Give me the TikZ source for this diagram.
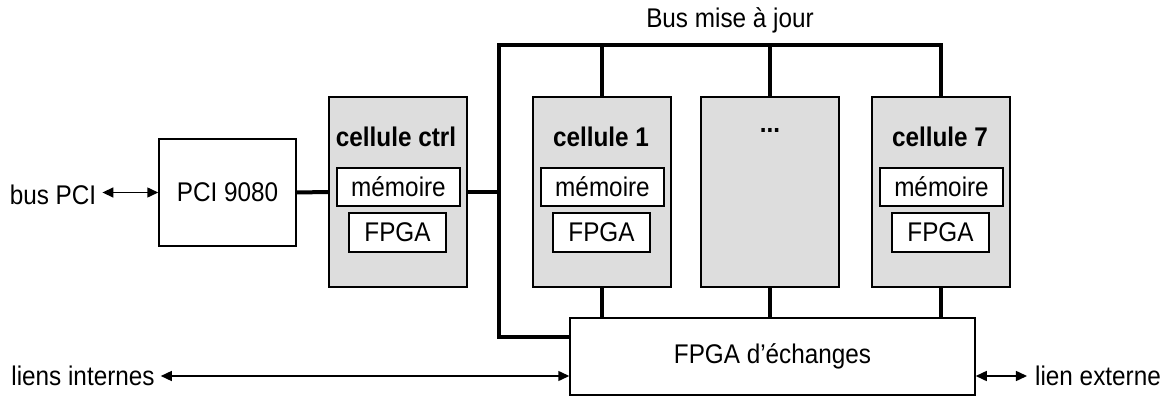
\documentclass[tikz,border=0pt]{standalone}
\usepackage{fontspec}
\setmainfont{Liberation Sans}[FakeStretch=0.9]
\usetikzlibrary{arrows.meta}
\definecolor{cellgray}{HTML}{DDDDDD}
\tikzset{
  box/.style={draw=black, line width=1.5pt, fill=white, inner sep=0pt, font=\fontsize{27}{31}\selectfont},
  cellbox/.style={draw=black, line width=1.5pt, fill=cellgray, minimum width=138pt, minimum height=190pt, inner sep=0pt},
  celltitle/.style={font=\bfseries\fontsize{27}{31}\selectfont, inner sep=0pt},
  membox/.style={box, minimum width=123pt, minimum height=38pt},
  fpgabox/.style={box, minimum width=97pt, minimum height=39pt},
  lbl/.style={font=\fontsize{27}{31}\selectfont, inner sep=0pt},
  bus/.style={line width=4pt},
  link/.style={line width=1.5pt, {Triangle[length=11pt,width=10pt]}-{Triangle[length=11pt,width=10pt]}}
}
\begin{document}
\begin{tikzpicture}[x=1pt,y=-1pt]
\useasboundingbox (0,0) rectangle (1172,403);

% PCI
\node[box, minimum width=137pt, minimum height=107pt] (pci) at (227.5,192.5) {PCI 9080};
\node[lbl] (buspci) at (53,195) {bus PCI};

% cells
\node[cellbox] (ctrl) at (398,192) {};
\node[cellbox] (c1) at (602,192) {};
\node[cellbox] (cd) at (770,192) {};
\node[cellbox] (c7) at (941,192) {};

\node[celltitle] (tctrl) at (396,137) {cellule ctrl};
\node[celltitle] (t1) at (601,137) {cellule 1};
\node[celltitle] (td) at (770,130) {...};
\node[celltitle] (t7) at (940,137) {cellule 7};

\node[membox] (mctrl) at (398.5,187) {mémoire};
\node[membox] (m1) at (602.5,187) {mémoire};
\node[membox] (m7) at (941.5,187) {mémoire};
\node[fpgabox] (fctrl) at (397.5,232.5) {FPGA};
\node[fpgabox] (f1) at (601.5,232.5) {FPGA};
\node[fpgabox] (f7) at (940.5,232.5) {FPGA};

% FPGA d'échanges
\node[box, minimum width=405pt, minimum height=77pt] (fx) at (772.5,356.5) {FPGA d’échanges};

% labels
\node[lbl] (busmaj) at (730,20) {Bus mise à jour};
\node[lbl] (li) at (83,376) {liens internes};
\node[lbl] (le) at (1098,376) {lien externe};

% bus coordinates
\coordinate (busTL) at (499,45);
\coordinate (busBL) at (499,337);

% buses
\draw[bus] (pci.east) -- (ctrl.west);
\draw[bus] (ctrl.east) -- (ctrl.east -| busTL);
\draw[bus, line join=miter] (fx.west |- busBL) -| (busTL) -| (c7.north);
\draw[bus] (c1.north |- busTL) -- (c1.north);
\draw[bus] (cd.north |- busTL) -- (cd.north);
\draw[bus] (c1.south) -- (c1.south |- fx.north);
\draw[bus] (cd.south) -- (cd.south |- fx.north);
\draw[bus] (c7.south) -- (c7.south |- fx.north);

% links
\draw[link] ([xshift=6pt]buspci.east |- pci.west) -- (pci.west);
\draw[link] ([xshift=6pt]li.east) -- (li.east -| fx.west);
\draw[link] (fx.east |- le.west) -- ([xshift=-8pt]le.west);
\end{tikzpicture}
\end{document}
